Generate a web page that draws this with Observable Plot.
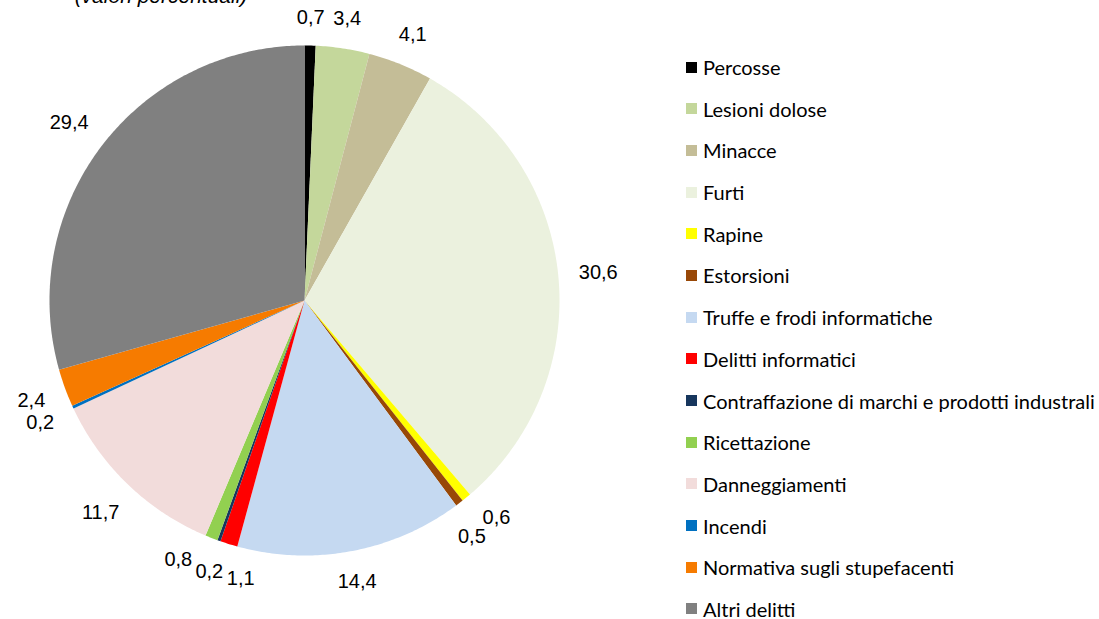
<!DOCTYPE html>
<html>
<head>
<meta charset="utf-8">
<script src="https://cdn.jsdelivr.net/npm/d3@7"></script>
<script src="https://cdn.jsdelivr.net/npm/@observablehq/plot@0.6"></script>
<style>
  html, body { margin: 0; padding: 0; background: #fff; }
  #wrap { position: relative; width: 1099px; height: 619px; overflow: hidden; }
  #title { position: absolute; left: 0; width: 322px; text-align: center; top: -16px;
           font-family: "Liberation Sans", Arial, sans-serif; font-style: italic; font-size: 21px; color: #000; }
  #chart { position: absolute; left: 0; top: 0; }
  #legend { position: absolute; left: 686px; top: 57px; font-family: Lato, "Open Sans", sans-serif; font-size: 20px; line-height: 20px; color: #000; }
  .row { display: flex; align-items: center; height: 20px; margin-bottom: 21.7px; white-space: nowrap; }
  .row:last-child { margin-bottom: 0; }
  .sw { width: 11px; height: 11px; margin-right: 6px; flex: none; }
</style>
</head>
<body>
<div id="wrap">
  <div id="title">(valori percentuali)</div>
  <div id="chart"></div>
  <div id="legend"></div>
</div>
<script>
const categories = ["Percosse", "Lesioni dolose", "Minacce", "Furti", "Rapine", "Estorsioni",
  "Truffe e frodi informatiche", "Delitti informatici", "Contraffazione di marchi e prodotti industrali",
  "Ricettazione", "Danneggiamenti", "Incendi", "Normativa sugli stupefacenti", "Altri delitti"];
const values = [0.7, 3.4, 4.1, 30.6, 0.6, 0.5, 14.4, 1.1, 0.2, 0.8, 11.7, 0.2, 2.4, 29.4];
const colors = ["#000000", "#c4d79b", "#c4bd97", "#ebf1de", "#ffff00", "#984807", "#c5d9f1",
  "#ff0000", "#17365d", "#92d050", "#f2dcdb", "#0070c0", "#f67b00", "#808080"];

const W = 660, H = 619, cx = 304, cy = 300, R = 255;
const fs = 20;
const fmt = v => v.toFixed(1).replace(".", ",");

const pie = d3.pie().sort(null).value(d => d.value)(categories.map((name, i) => ({name, value: values[i]})));

// slice polygons (angle 0 = 12 o'clock, clockwise)
const poly = [];
pie.forEach(s => {
  const n = Math.max(2, Math.ceil((s.endAngle - s.startAngle) / 0.01));
  poly.push({name: s.data.name, x: cx, y: cy});
  for (let k = 0; k <= n; k++) {
    const a = s.startAngle + (s.endAngle - s.startAngle) * k / n;
    poly.push({name: s.data.name, x: cx + R * Math.sin(a), y: cy - R * Math.cos(a)});
  }
  poly.push({name: s.data.name, x: cx, y: cy});
});

// labels outside the pie, spread along the circle when they collide
const gap = 20;
const labels = pie.map(s => {
  const t = fmt(s.data.value);
  return {text: t, a: (s.startAngle + s.endAngle) / 2,
    w: fs * (0.556 * (t.length - 1) + 0.278), h: fs * 0.78};
});
function place(L) {
  const sx = Math.sin(L.a), sy = -Math.cos(L.a);
  const d = R + gap + (L.w / 2) * Math.abs(sx) + (L.h / 2) * Math.abs(sy);
  L.x = cx + d * sx; L.y = cy + d * sy;
}
labels.forEach(place);
for (let it = 0; it < 3000; it++) {
  let moved = false;
  for (let i = 0; i < labels.length; i++) {
    const A = labels[i], B = labels[(i + 1) % labels.length];
    const ox = (A.w + B.w) / 2 + 3 - Math.abs(A.x - B.x);
    const oy = (A.h + B.h) / 2 + 3 - Math.abs(A.y - B.y);
    if (ox > 0 && oy > 0) {
      moved = true;
      A.a -= 0.002; B.a += 0.002;
      place(A); place(B);
    }
  }
  if (!moved) break;
}

const plot = Plot.plot({
  width: W, height: H,
  margin: 0,
  x: {domain: [0, W], range: [0, W], axis: null},
  y: {domain: [0, H], range: [0, H], axis: null},
  color: {domain: categories, range: colors},
  marks: [
    Plot.line(poly, {x: "x", y: "y", z: "name", fill: "name", stroke: "none", curve: "linear"}),
    Plot.text(labels, {x: "x", y: "y", text: "text", fill: "#000", fontSize: fs,
      fontFamily: "Liberation Sans, Arial, sans-serif", textAnchor: "middle", lineAnchor: "middle"})
  ]
});
document.getElementById("chart").appendChild(plot);

const legend = document.getElementById("legend");
categories.forEach((c, i) => {
  const row = document.createElement("div");
  row.className = "row";
  const sw = document.createElement("span");
  sw.className = "sw";
  sw.style.background = colors[i];
  const lab = document.createElement("span");
  lab.textContent = c;
  row.appendChild(sw); row.appendChild(lab);
  legend.appendChild(row);
});
</script>
</body>
</html>
